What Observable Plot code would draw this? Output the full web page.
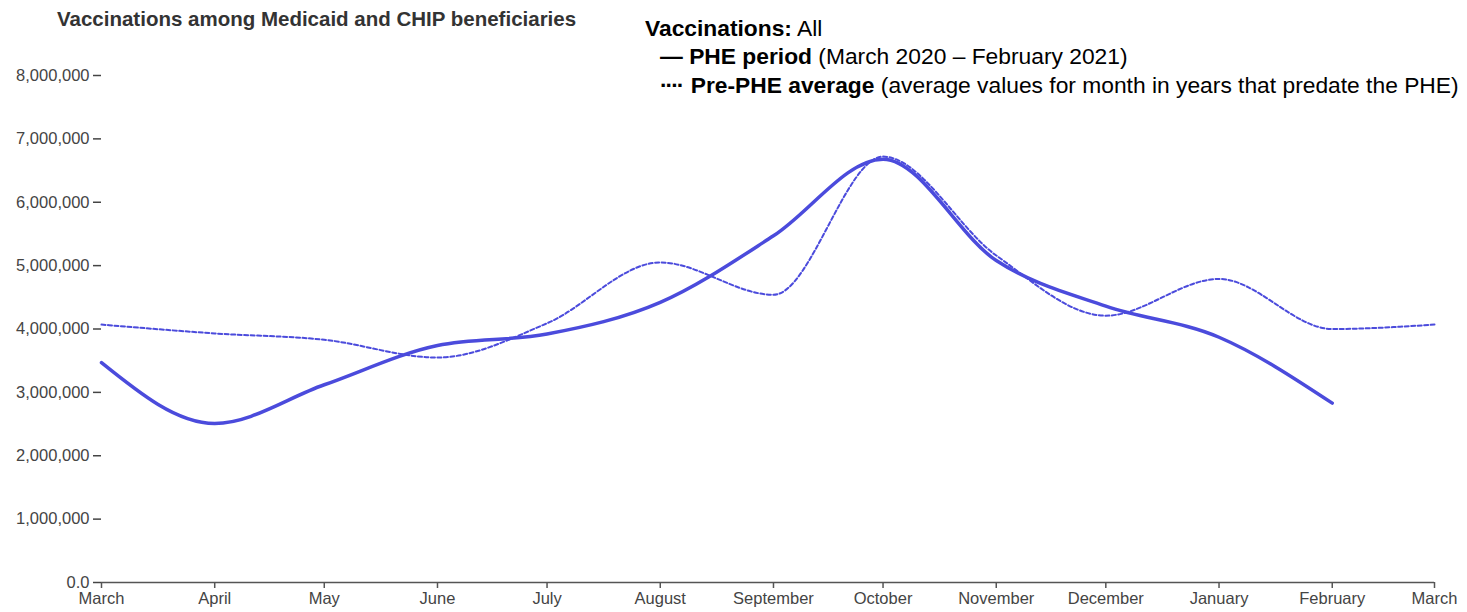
<!DOCTYPE html>
<html>
<head>
<meta charset="utf-8">
<script src="https://cdn.jsdelivr.net/npm/d3@7"></script>
<script src="https://cdn.jsdelivr.net/npm/@observablehq/plot@0.6"></script>
<style>
  html, body { margin: 0; padding: 0; background: #fff; }
  #wrap { position: relative; width: 1467px; height: 612px; font-family: Arial, "Liberation Sans", sans-serif; }
  #title { position: absolute; left: 57px; top: 7px; font-size: 20.5px; font-weight: bold; color: #333; white-space: nowrap; }
  #legend { position: absolute; left: 645px; top: 13.5px; font-size: 22.8px; color: #000; line-height: 28.5px; white-space: nowrap; }
  #legend .row { padding-left: 15px; }
  #legend .dots { letter-spacing: -2px; margin-right: 2px; }
  #chart { position: absolute; left: 0; top: 0; }
</style>
</head>
<body>
<div id="wrap">
  <div id="chart"></div>
  <div id="title">Vaccinations among Medicaid and CHIP beneficiaries</div>
  <div id="legend">
    <div><b>Vaccinations:</b> All</div>
    <div class="row"><b>— PHE period</b> (March 2020 – February 2021)</div>
    <div class="row"><b><span class="dots">····</span> Pre-PHE average</b> (average values for month in years that predate the PHE)</div>
  </div>
</div>
<script>
const months = ["2020-03-01","2020-04-01","2020-05-01","2020-06-01","2020-07-01","2020-08-01","2020-09-01","2020-10-01","2020-11-01","2020-12-01","2021-01-01","2021-02-01","2021-03-01"];
const monthLabels = ["March","April","May","June","July","August","September","October","November","December","January","February","March"];
const phePeriod = [3470000, 2510000, 3120000, 3740000, 3920000, 4420000, 5470000, 6680000, 5080000, 4360000, 3870000, 2830000];
const prePheAverage = [4070000, 3930000, 3830000, 3550000, 4090000, 5050000, 4540000, 6720000, 5160000, 4210000, 4790000, 4000000, 4070000];
const yTicks = [0, 1000000, 2000000, 3000000, 4000000, 5000000, 6000000, 7000000, 8000000];

const dates = months.map(d => new Date(d + "T00:00:00Z"));
const pheData = phePeriod.map((v, i) => ({date: dates[i], value: v}));
const preData = prePheAverage.map((v, i) => ({date: dates[i], value: v}));
const labelOf = new Map(dates.map((d, i) => [+d, monthLabels[i]]));

const color = "#4b4bdc";
const fmt = d3.format(",");

const chart = Plot.plot({
  width: 1467,
  height: 612,
  marginLeft: 101,
  marginRight: 33,
  marginTop: 75,
  marginBottom: 30,
  style: {fontFamily: "Arial, 'Liberation Sans', sans-serif", fontSize: "16.5px", color: "#444", background: "transparent"},
  x: {type: "utc", domain: [dates[0], dates[dates.length - 1]]},
  y: {domain: [0, 8000000]},
  marks: [
    Plot.ruleY([0], {stroke: "#555", strokeWidth: 1.5}),
    Plot.axisX({ticks: dates, tickFormat: d => labelOf.get(+d), tickSize: 6, tickPadding: 4, stroke: "#555", strokeWidth: 1.5, label: null, fill: "#444"}),
    Plot.axisY({ticks: yTicks, tickFormat: d => d === 0 ? "0.0" : fmt(d), tickSize: 8, tickPadding: 4, stroke: "#444", strokeWidth: 1.5, label: null, fill: "#444"}),
    Plot.line(preData, {x: "date", y: "value", curve: "monotone-x", stroke: color, strokeWidth: 2, strokeDasharray: "4,2.5"}),
    Plot.line(pheData, {x: "date", y: "value", curve: "monotone-x", stroke: color, strokeWidth: 3.5})
  ]
});
document.getElementById("chart").appendChild(chart);
</script>
</body>
</html>
